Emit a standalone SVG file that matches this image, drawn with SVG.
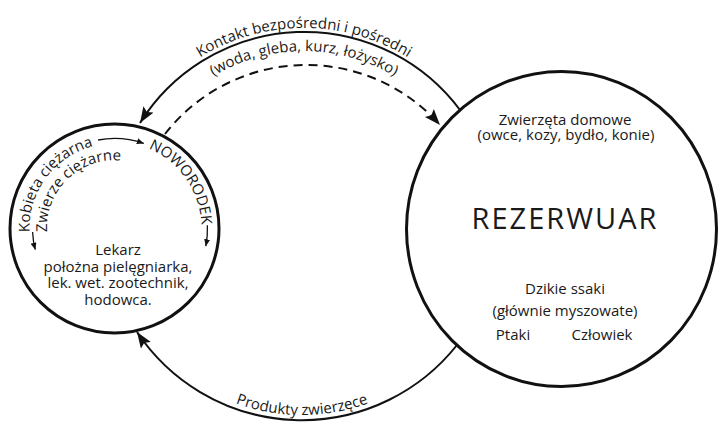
<svg xmlns="http://www.w3.org/2000/svg" width="718" height="423" viewBox="0 0 718 423">
<style>
  text { font-family: "Open Sans", "Liberation Sans", sans-serif; fill: #1a1a1a; }
  .t { font-size: 15px; }
  .c { text-anchor: middle; }
  .node { fill: #fff; stroke: #111; stroke-width: 3; }
  .arc { fill: none; stroke: #111; stroke-width: 2; }
  .dash { stroke-dasharray: 9 6; }
  .small { fill: none; stroke: #111; stroke-width: 1.3; }
</style>
<defs>
  <marker id="big" markerUnits="userSpaceOnUse" markerWidth="18" markerHeight="14" refX="16" refY="6" orient="auto">
    <path d="M0,0 L16,6 L0,12 L3,6 z" fill="#111"/>
  </marker>
  <marker id="sm" markerUnits="userSpaceOnUse" markerWidth="8" markerHeight="8" refX="7" refY="3" orient="auto">
    <path d="M0,0 L7,3 L0,6 z" fill="#111"/>
  </marker>
  <path id="pTopOuter" d="M152.3 98.7 A198 198 0 0 1 455.7 98.7"/>
  <path id="pTopInner" d="M170 113.5 A175 175 0 0 1 438 113.5"/>
  <path id="pBottom" d="M154.2 346.1 A193 193 0 0 0 449.8 346.1"/>
  <path id="pKob" d="M29.58 232.21 A85 85 0 0 1 157 154.9"/>
  <path id="pZw" d="M47.09 232.03 A67.5 67.5 0 0 1 160 178"/>
  <path id="pNow" d="M148.5 148.4 A87 87 0 0 1 201.2 236.1"/>
</defs>

<g id="rezerwuar">
  <ellipse class="node" cx="561.5" cy="229" rx="155" ry="157.5"/>
  <text class="t c" x="565" y="125">Zwierzęta domowe</text>
  <text class="t c" x="566" y="139.5">(owce, kozy, bydło, konie)</text>
  <text class="c" x="565" y="229" font-size="29" letter-spacing="2">REZERWUAR</text>
  <text class="t c" x="565" y="294">Dzikie ssaki</text>
  <text class="t c" x="565" y="316">(głównie myszowate)</text>
  <text class="t c" x="513" y="340">Ptaki</text>
  <text class="t c" x="602" y="340">Człowiek</text>
</g>

<g id="noworodek">
  <circle class="node" cx="114.5" cy="228.5" r="104.5"/>
  <text class="t"><textPath href="#pKob">Kobieta ciężarna</textPath></text>
  <text class="t"><textPath href="#pZw">Zwierze ciężarne</textPath></text>
  <text class="t"><textPath href="#pNow">NOWORODEK</textPath></text>
  <path class="small" d="M98.1 140 A90 90 0 0 1 143.8 143.4" marker-end="url(#sm)"/>
  <path class="small" d="M207.4 225.3 A93 93 0 0 1 205.8 246.2" marker-end="url(#sm)"/>
  <path class="small" d="M32.58 232.08 A82 82 0 0 0 35.3 249.7" marker-end="url(#sm)"/>
  <text class="t c" x="118" y="255">Lekarz</text>
  <text class="t c" x="118" y="271.5">położna pielęgniarka,</text>
  <text class="t c" x="118" y="288">lek. wet. zootechnik,</text>
  <text class="t c" x="118" y="304.5">hodowca.</text>
</g>

<g id="connectors">
  <path class="arc" d="M460 110 A194 194 0 0 0 140 123" marker-end="url(#big)"/>
  <path class="arc dash" d="M165 134 A179 179 0 0 1 440 125" marker-end="url(#big)"/>
  <path class="arc" d="M457 345 A198 198 0 0 1 137 332" marker-end="url(#big)"/>
  <text class="t c"><textPath href="#pTopOuter" startOffset="50%">Kontakt bezpośredni i pośredni</textPath></text>
  <text class="t c"><textPath href="#pTopInner" startOffset="50%">(woda, gleba, kurz, łożysko)</textPath></text>
  <text class="t c"><textPath href="#pBottom" startOffset="50%">Produkty zwierzęce</textPath></text>
</g>
</svg>
